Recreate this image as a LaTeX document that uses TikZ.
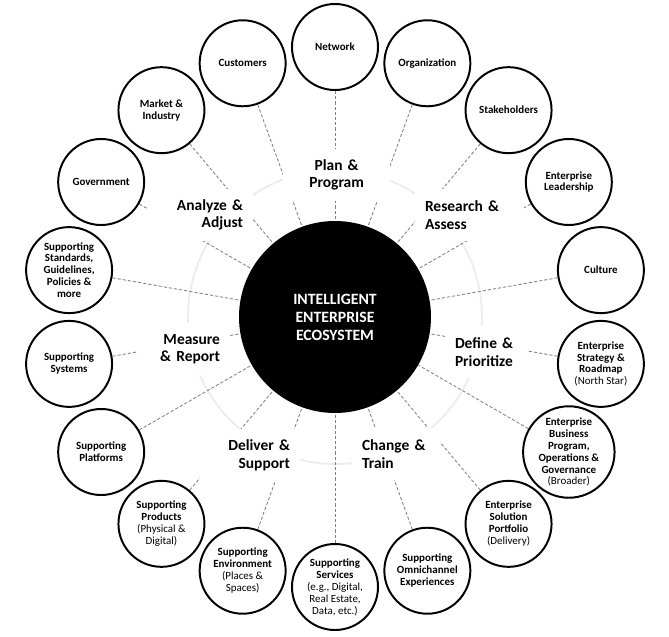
\documentclass[tikz,border=0pt]{standalone}
\usepackage{fontspec}
\setmainfont{Carlito}
\usetikzlibrary{backgrounds}
\definecolor{EcoInk}{HTML}{000000}
\definecolor{EcoLink}{HTML}{808080}
\definecolor{EcoTrack}{HTML}{EDEDED}
\tikzset{
  hub/.style={circle, fill=EcoInk, minimum size=4.8cm, inner sep=0pt, align=center,
              font=\bfseries\fontsize{11.2}{12.8}\selectfont\color{white}},
  orbit/.style={circle, draw=EcoInk, fill=white, line width=1.4pt, minimum size=2.15cm,
                inner sep=0pt, align=center, font=\bfseries\fontsize{7.8}{8.5}\selectfont},
  phase/.style={fill=white, inner xsep=0.25cm, inner ysep=0pt, minimum height=1.3cm,
                font=\bfseries\fontsize{11}{12.5}\selectfont},
  link/.style={draw=EcoLink, line width=0.6pt, dash pattern=on 2.3pt off 1.4pt},
  track/.style={draw=EcoTrack, line width=1.4pt},
}

\begin{document}
\begin{tikzpicture}
  \useasboundingbox (-8.375,-7.975) rectangle (8.35,7.925);

  % Hub
  \node[hub] (core) at (0,0) {INTELLIGENT\\ENTERPRISE\\ECOSYSTEM};

  % Outer ring
  \node[orbit] (network)      at (90:6.75)  {Network};
  \node[orbit] (organization) at (70:6.75)  {Organization};
  \node[orbit] (stakeholders) at (50:6.75)  {Stakeholders};
  \node[orbit] (leadership)   at (30:6.75)  {Enterprise\\Leadership};
  \node[orbit] (culture)      at (10:6.75)  {Culture};
  \node[orbit] (strategy)     at (-10:6.75) {Enterprise\\Strategy \&\\Roadmap\\\textmd{(North Star)}};
  \node[orbit] (business)     at (-30:6.75) {Enterprise\\Business\\Program,\\Operations \&\\Governance\\\textmd{(Broader)}};
  \node[orbit] (portfolio)    at (-50:6.75) {Enterprise\\Solution\\Portfolio\\\textmd{(Delivery)}};
  \node[orbit] (omnichannel)  at (-70:6.75) {Supporting\\Omnichannel\\Experiences};
  \node[orbit] (services)     at (-90:6.75) {Supporting\\Services\\\textmd{(e.g., Digital,}\\\textmd{Real Estate,}\\\textmd{Data, etc.)}};
  \node[orbit] (environment)  at (250:6.75) {Supporting\\Environment\\\textmd{(Places \&}\\\textmd{Spaces)}};
  \node[orbit] (products)     at (230:6.75) {Supporting\\Products\\\textmd{(Physical \&}\\\textmd{Digital)}};
  \node[orbit] (platforms)    at (210:6.75) {Supporting\\Platforms};
  \node[orbit] (systems)      at (190:6.75) {Supporting\\Systems};
  \node[orbit] (standards)    at (170:6.75) {Supporting\\Standards,\\Guidelines,\\Policies \&\\more};
  \node[orbit] (government)   at (150:6.75) {Government};
  \node[orbit] (market)       at (130:6.75) {Market \&\\Industry};
  \node[orbit] (customers)    at (110:6.75) {Customers};

  % Track and links (behind)
  \begin{scope}[on background layer]
    \draw[track] (core.center) circle (3.675);
    \foreach \src in {network,organization,stakeholders,leadership,culture,strategy,
                      business,portfolio,omnichannel,services,environment,products,
                      platforms,systems,standards,government,market,customers}
      \draw[link] (\src) -- (core);
  \end{scope}

  % Cycle labels
  \node[phase, text width=2.175cm, align=center] (plan)     at (0.04,3.55)     {Plan~\&\\Program};
  \node[phase, text width=2.225cm, align=left]   (research) at (3.3625,2.55)   {Research~\&\\Assess};
  \node[phase, text width=1.55cm,  align=left]   (define)   at (3.775,-0.875)  {Define~\&\\Prioritize};
  \node[phase, text width=1.7cm,   align=left]   (change)   at (1.525,-3.425)  {Change~\&\\Train};
  \node[phase, text width=2.0cm,   align=right]  (deliver)  at (-2.125,-3.45)  {Deliver~\&\\Support};
  \node[phase, text width=1.825cm, align=right]  (measure)  at (-3.7875,-0.8)  {Measure\\\&~Report};
  \node[phase, text width=2.15cm,  align=right]  (analyze)  at (-3.375,2.55)   {Analyze~\&\\Adjust};
\end{tikzpicture}
\end{document}
